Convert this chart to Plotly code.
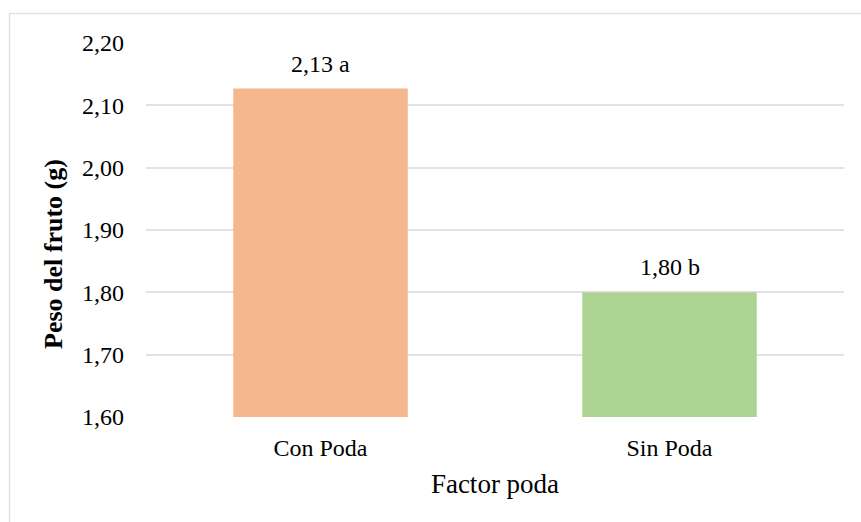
import plotly.graph_objects as go

# Fruit weight by pruning treatment
categories = ["Con Poda", "Sin Poda"]
peso = [2.127, 1.80]
letras = ["a", "b"]
y_ticks = [1.60, 1.70, 1.80, 1.90, 2.00, 2.10, 2.20]
colores = ["#F4B78E", "#AED494"]

FONT = "Liberation Serif, Times New Roman, serif"
L, R, T, B = 146, 17, 43, 105
W, H = 861, 522
PW, PH = W - L - R, H - T - B

fig = go.Figure()
fig.add_trace(go.Bar(
    x=categories,
    y=[v - 1.60 for v in peso],
    base=1.60,
    marker=dict(color=colores, line=dict(width=0)),
    width=0.5,
    hoverinfo="skip",
))

# Value labels with significance letters above each bar
for cat, v, letra in zip(categories, peso, letras):
    fig.add_annotation(
        x=cat, y=v, xref="x", yref="y",
        text=f"{v:.2f}".replace(".", ",") + f" {letra}",
        showarrow=False, yanchor="bottom", yshift=10,
        font=dict(family=FONT, size=24, color="#000000"),
    )

# Vertical axis title
fig.add_annotation(
    x=(53 - L) / PW, y=1 - (254 - T) / PH, xref="paper", yref="paper",
    text="<b>Peso del fruto (g)</b>", textangle=-90, showarrow=False,
    xanchor="center", yanchor="middle",
    font=dict(family=FONT, size=26, color="#000000"),
)

# Outer chart frame
fig.add_shape(
    type="rect", xref="paper", yref="paper",
    x0=(9.5 - L) / PW, x1=(875 - L) / PW,
    y0=-0.5, y1=1 + (T - 13.5) / PH,
    line=dict(color="#DFE3E7", width=1.5), fillcolor="rgba(0,0,0,0)",
    layer="below",
)

fig.update_layout(
    width=W, height=H,
    margin=dict(l=L, r=R, t=T, b=B),
    paper_bgcolor="white", plot_bgcolor="white",
    showlegend=False,
    separators=",.",
    font=dict(family=FONT, size=24, color="#000000"),
    xaxis=dict(
        showgrid=False, showline=False, zeroline=False,
        tickfont=dict(family=FONT, size=24),
        ticklabelstandoff=14,
        title=dict(text="Factor poda", font=dict(family=FONT, size=27), standoff=14),
    ),
    yaxis=dict(
        range=[1.60, 2.20],
        tickvals=y_ticks,
        ticktext=[f"{t:.2f}".replace(".", ",") for t in y_ticks],
        showgrid=True, gridcolor="#DFE3E7", gridwidth=1.5,
        zeroline=False, showline=False,
        tickfont=dict(family=FONT, size=24),
        ticklabelstandoff=21,
    ),
)

fig.write_html("out.html")
